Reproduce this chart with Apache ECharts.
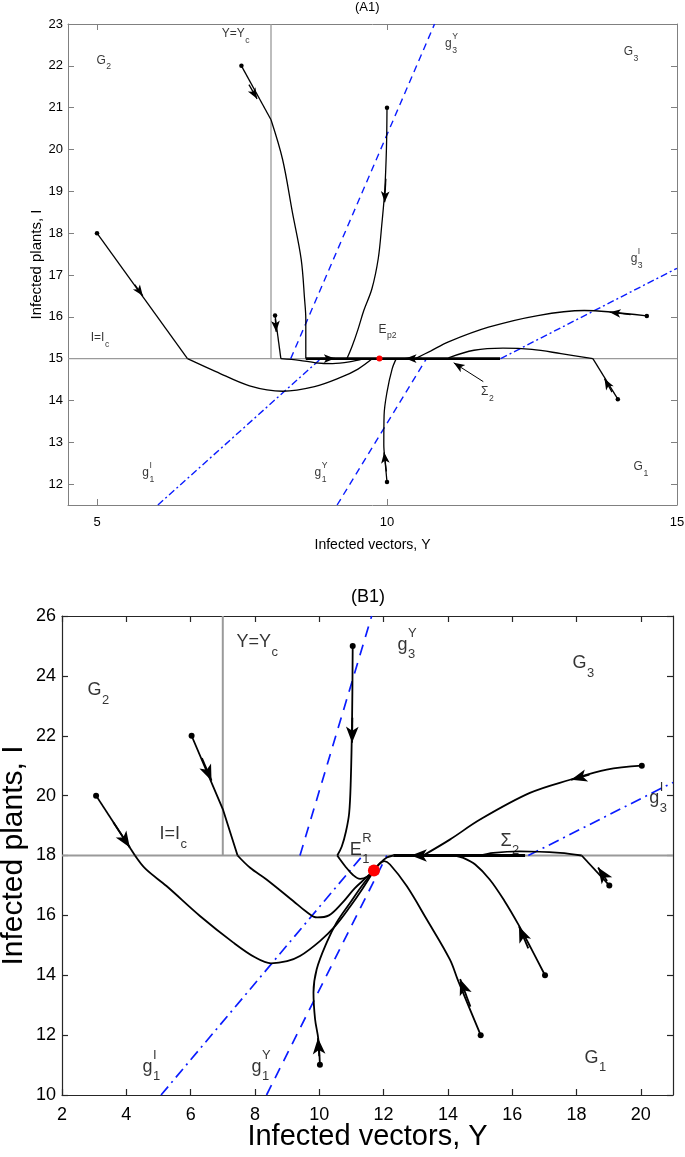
<!DOCTYPE html>
<html><head><meta charset="utf-8">
<script src="https://cdn.jsdelivr.net/npm/echarts@6/dist/echarts.min.js"></script>
<style>html,body{margin:0;padding:0;background:#fff}#c{width:685px;height:1157px}</style>
</head><body><div id="c"></div>
<script>
// ================= Panel A1 =================
const a1XTicks = [5, 10, 15];
const a1YTicks = [12, 13, 14, 15, 16, 17, 18, 19, 20, 21, 22, 23];
const a1YcLine = [[8, 15], [8, 23]];
const a1IcLine = [[4.5, 15], [15, 15]];
const a1G1Y = [[9.14, 11.5], [10.68, 15]];
const a1G3Y = [[8.34, 15], [10.82, 23]];
const a1G1I = [[6.05, 11.5], [8.86, 15]];
const a1G3I = [[11.96, 15], [15, 17.16]];
const a1Sliding = [[8.6, 15], [11.95, 15]];
const a1Ep2 = [9.87, 15];
const a1Traj1 = [[[7.49, 22], [8.0, 20.71]], [[8.0, 20.71], [8.2, 19.76], [8.37, 18.49], [8.52, 17.38], [8.58, 16.4], [8.6, 15.95], [8.6, 15.0]]];
const a1Traj2 = [[[5, 18], [6.56, 15]], [[6.56, 15], [7.05, 14.69], [7.63, 14.35], [8.2, 14.22], [8.75, 14.33], [9.2, 14.55], [9.5, 14.75], [9.75, 15.0]]];
const a1Traj3 = [[[8.07, 16.03], [8.17, 15]], [[8.17, 15], [8.49, 14.96], [8.77, 14.9], [9.06, 14.88], [9.35, 14.92], [9.6, 15]]];
const a1Traj4 = [[[10, 21], [9.99, 20], [9.96, 19], [9.91, 18.2], [9.85, 17.4], [9.74, 16.67], [9.6, 16.15], [9.5, 15.7], [9.4, 15.3], [9.31, 15.0]]];
const a1Traj5 = [[[10, 12.05], [9.97, 12.5], [9.945, 12.94], [9.95, 13.65], [10.0, 14.2], [10.09, 14.76], [10.16, 15]]];
const a1Traj6 = [[[14.48, 16.02], [13.81, 16.12], [13.4, 16.15], [12.6, 16.03], [11.75, 15.75], [11.06, 15.4], [10.75, 15.18], [10.49, 15.0]]];
const a1Traj7 = [[[13.98, 14.03], [13.55, 15]], [[13.55, 15], [13.0, 15.12], [12.5, 15.22], [12.0, 15.25], [11.5, 15.2], [11.06, 15.02]]];
const a1Arrows = [
  [[7.62, 21.55], [7.76, 21.21]],
  [[5.65, 16.77], [5.79, 16.5]],
  [[8.075, 15.95], [8.09, 15.64]],
  [[8.85, 15], [9.1, 15]],
  [[9.98, 19.3], [9.96, 18.74]],
  [[9.99, 12.3], [9.95, 12.76]],
  [[10.6, 15], [10.32, 15]],
  [[14.2, 16.05], [13.84, 16.11]],
  [[13.88, 14.2], [13.75, 14.52]]
];
const a1Pointer = [[[11.66, 14.45], [11.15, 14.9]]];
const a1Labels = [
  {t: 'G', sub: '2', at: [5.0, 22.12]},
  {t: 'Y=Y', sub: 'c', at: [7.16, 22.76]},
  {t: 'g', sub: '3', sup: 'Y', at: [11.01, 22.52]},
  {t: 'G', sub: '3', at: [14.09, 22.33]},
  {t: 'g', sub: '3', sup: 'I', at: [14.21, 17.38]},
  {t: 'I=I', sub: 'c', at: [4.9, 15.48]},
  {t: 'E', sub: 'p2', at: [9.86, 15.69]},
  {t: 'Σ', sub: '2', at: [11.63, 14.19]},
  {t: 'g', sub: '1', sup: 'I', at: [5.79, 12.26]},
  {t: 'g', sub: '1', sup: 'Y', at: [8.76, 12.26]},
  {t: 'G', sub: '1', at: [14.26, 12.4]}
];

// ================= Panel B1 =================
const b1XTicks = [2, 4, 6, 8, 10, 12, 14, 16, 18, 20];
const b1YTicks = [10, 12, 14, 16, 18, 20, 22, 24, 26];
const b1YcLine = [[7, 18], [7, 26]];
const b1IcLine = [[2, 18], [21, 18]];
const b1G1Y = [[8.36, 10], [12.1, 18]];
const b1G3Y = [[9.4, 18], [11.63, 26]];
const b1G1I = [[5.08, 10], [11.35, 18]];
const b1G3I = [[16.5, 18], [21, 20.44]];
const b1Sliding = [[12.3, 18], [16.4, 18]];
const b1E1R = [11.7, 17.5];
const b1Traj1 = [[[3.06, 20], [4.27, 18]], [[4.27, 18], [4.6, 17.55], [5.25, 16.98], [6.29, 15.98], [7.33, 15.09], [8.0, 14.6], [8.5, 14.4], [9.0, 14.47], [9.4, 14.64], [10.02, 15.14], [10.5, 15.65], [10.95, 16.28], [11.35, 16.9], [11.7, 17.5]]];
const b1Traj2 = [[[6.03, 22], [7.0, 19.55], [7.46, 18]], [[7.46, 18], [7.85, 17.59], [8.36, 17.2], [9.19, 16.48], [9.6, 16.12], [9.93, 15.93], [10.3, 16.0], [10.7, 16.4], [11.1, 16.9], [11.45, 17.25], [11.7, 17.5]]];
const b1Traj3 = [[[11.04, 25], [11.02, 22.5], [10.98, 20.5], [10.93, 19.42], [10.83, 18.8], [10.7, 18.3], [10.56, 18]], [[10.56, 18], [10.8, 17.65], [11.05, 17.35], [11.27, 17.22], [11.5, 17.3], [11.7, 17.5]]];
const b1Traj4 = [[[20.03, 21], [18.94, 20.87], [17.8, 20.53], [16.55, 20.09], [15.0, 19.2], [14.06, 18.53], [13.23, 18]]];
const b1Traj5 = [[[10.02, 11.01], [9.97, 11.87], [9.87, 12.53], [9.82, 13.42], [9.92, 14.2], [10.23, 15.09], [10.54, 15.76], [10.96, 16.42], [11.3, 16.95], [11.7, 17.5]]];
const b1Traj6 = [[[15.02, 12], [14.32, 13.81], [14.06, 14.53], [13.34, 15.87], [12.72, 16.98], [12.2, 17.7], [12.02, 17.81], [11.85, 17.7], [11.7, 17.5]]];
const b1Traj7 = [[[17.02, 14], [16.6, 14.87], [16.19, 15.7], [15.75, 16.5], [15.3, 17.2], [14.85, 17.7], [14.48, 17.92], [14.22, 18]]];
const b1Traj8 = [[[19.02, 17], [18.16, 18]], [[18.16, 18], [17.49, 18.09], [16.24, 18.14], [15.41, 18.09], [15.0, 18.0]]];
const b1SlideEnd = [[[12.3, 18], [12.1, 17.93], [11.9, 17.75], [11.7, 17.5]]];
const b1Arrows = [
  [[3.6, 19.1], [4.11, 18.27]],
  [[6.35, 21.25], [6.65, 20.5]],
  [[11.03, 22.6], [11.02, 21.77]],
  [[18.4, 20.7], [17.83, 20.53]],
  [[13.4, 18], [12.85, 18]],
  [[10.0, 11.3], [9.96, 11.9]],
  [[14.7, 12.95], [14.38, 13.87]],
  [[16.5, 14.9], [16.21, 15.63]],
  [[18.95, 17.15], [18.67, 17.6]]
];
const b1Labels = [
  {t: 'G', sub: '2', at: [2.81, 23.5]},
  {t: 'Y=Y', sub: 'c', at: [7.44, 25.1]},
  {t: 'g', sub: '3', sup: 'Y', at: [12.45, 25.03]},
  {t: 'G', sub: '3', at: [17.89, 24.4]},
  {t: 'g', sub: '3', sup: 'I', at: [20.28, 19.9]},
  {t: 'I=I', sub: 'c', at: [5.05, 18.7]},
  {t: 'E', sub: '1', sup: 'R', at: [10.96, 18.17]},
  {t: 'Σ', sub: '2', at: [15.65, 18.47]},
  {t: 'g', sub: '1', sup: 'I', at: [4.52, 10.93]},
  {t: 'g', sub: '1', sup: 'Y', at: [7.91, 10.93]},
  {t: 'G', sub: '1', at: [18.26, 11.23]}
];

// ================= building =================
const FONT = '"Liberation Sans", Arial, Helvetica, sans-serif';
const BLUE = '#0a1cff';
const GRAY = '#9a9a9a';
const ctx = document.createElement('canvas').getContext('2d');
function textW(s, fs) { ctx.font = fs + 'px ' + FONT; return ctx.measureText(s).width; }

function axes(gi, xr, yr, xt, yt, o) {
  const common = (ticks, show, margin) => ({
    splitLine: {show: false},
    axisLine: {show: true, onZero: false, lineStyle: {color: o.lc, width: o.lw}},
    axisTick: {show: true, inside: true, length: o.tl, customValues: ticks, lineStyle: {color: o.lc, width: o.lw}},
    axisLabel: {show: show, customValues: ticks, margin: margin, fontSize: o.fs, color: '#000', fontFamily: FONT}
  });
  const xs = [
    Object.assign({type: 'value', gridIndex: gi, position: 'bottom', min: xr[0], max: xr[1],
      name: 'Infected vectors, Y', nameLocation: 'middle', nameGap: o.xGap, nameMoveOverlap: false,
      nameTextStyle: {fontSize: o.nameFs, color: '#000', fontFamily: FONT}}, common(xt, true, o.xm)),
    Object.assign({type: 'value', gridIndex: gi, position: 'top', min: xr[0], max: xr[1]}, common(xt, false, 0))
  ];
  const ys = [
    Object.assign({type: 'value', gridIndex: gi, position: 'left', min: yr[0], max: yr[1],
      name: 'Infected plants, I', nameLocation: 'middle', nameGap: o.yGap, nameMoveOverlap: false,
      nameTextStyle: {fontSize: o.yNameFs, color: '#000', fontFamily: FONT}}, common(yt, true, o.ym)),
    Object.assign({type: 'value', gridIndex: gi, position: 'right', min: yr[0], max: yr[1]}, common(yt, false, 0))
  ];
  return {xs, ys};
}

const series = [];
function addLine(p, data, color, width, type, smooth, z) {
  series.push({type: 'line', xAxisIndex: p * 2, yAxisIndex: p * 2, data: data, symbol: 'none', showSymbol: false,
    smooth: smooth || false, lineStyle: {color: color, width: width, type: type || 'solid'}, z: z || 2,
    silent: true, animation: false});
}
function addTraj(p, traj, width) {
  traj.forEach(seg => addLine(p, seg, '#000', width, 'solid', seg.length > 3 ? 0.35 : false, 4));
}
function addArrows(p, arrows, width, size) {
  series.push({type: 'lines', coordinateSystem: 'cartesian2d', xAxisIndex: p * 2, yAxisIndex: p * 2,
    data: arrows.map(a => ({coords: a})), symbol: ['none', 'arrow'], symbolSize: [1, size],
    lineStyle: {color: '#000', width: width, opacity: 1, curveness: 0}, z: 6, silent: true, animation: false});
}
function addDots(p, pts, size, color, z) {
  series.push({type: 'scatter', xAxisIndex: p * 2, yAxisIndex: p * 2, data: pts, symbolSize: size,
    itemStyle: {color: color, opacity: 1}, z: z || 7, silent: true, animation: false});
}
function addLabels(p, list, fs) {
  const items = [];
  const mk = (at, text, dx, dy, f) => ({value: at, label: {show: true, formatter: text, position: [dx, dy],
    align: 'left', verticalAlign: 'middle', fontSize: f, color: '#000', fontFamily: FONT}});
  list.forEach(L => {
    const w = textW(L.t, fs);
    items.push(mk(L.at, L.t, 0, 0, fs));
    if (L.sub) items.push(mk(L.at, L.sub, w + 0.5, fs * 0.55, fs * 0.72));
    if (L.sup) items.push(mk(L.at, L.sup, w + 0.5, -fs * 0.62, fs * 0.72));
  });
  series.push({type: 'scatter', xAxisIndex: p * 2, yAxisIndex: p * 2, data: items, symbolSize: 1,
    itemStyle: {color: 'rgba(0,0,0,0)'}, z: 8, silent: true, animation: false});
}

// Panel A1
const A = axes(0, [4.5, 15], [11.5, 23], a1XTicks, a1YTicks,
  {lc: '#808080', lw: 1, tl: 6, fs: 13, xm: 11, ym: 5, xGap: 33, yGap: 24, nameFs: 14, yNameFs: 15});
addLine(0, a1YcLine, GRAY, 1.3, 'solid', false, 1);
addLine(0, a1IcLine, GRAY, 1.3, 'solid', false, 1);
addLine(0, a1G1Y, BLUE, 1.4, [7, 5], false, 3);
addLine(0, a1G3Y, BLUE, 1.4, [7, 5], false, 3);
addLine(0, a1G1I, BLUE, 1.4, [7, 3, 2, 3], false, 3);
addLine(0, a1G3I, BLUE, 1.4, [7, 3, 2, 3], false, 3);
[a1Traj1, a1Traj2, a1Traj3, a1Traj4, a1Traj5, a1Traj6, a1Traj7].forEach(t => addTraj(0, t, 1.3));
addLine(0, a1Sliding, '#000', 2.6, 'solid', false, 5);
addArrows(0, a1Arrows, 1.3, [6.5, 11]);
addArrows(0, a1Pointer, 1, [6.5, 11]);
addDots(0, [a1Traj1, a1Traj2, a1Traj3, a1Traj4, a1Traj5, a1Traj6, a1Traj7].map(t => t[0][0]), 4.5, '#000');
addDots(0, [a1Ep2], 6, '#ff0000', 9);
addLabels(0, a1Labels, 12);

// Panel B1
const B = axes(1, [2, 21], [10, 26], b1XTicks, b1YTicks,
  {lc: '#262626', lw: 1.2, tl: 6, fs: 18, xm: 11, ym: 6, xGap: 27, yGap: 33, nameFs: 29, yNameFs: 30});
addLine(1, b1YcLine, GRAY, 2, 'solid', false, 1);
addLine(1, b1IcLine, GRAY, 2, 'solid', false, 1);
addLine(1, b1G1Y, BLUE, 1.7, [11, 8], false, 3);
addLine(1, b1G3Y, BLUE, 1.7, [11, 8], false, 3);
addLine(1, b1G1I, BLUE, 1.7, [11, 5, 2, 5], false, 3);
addLine(1, b1G3I, BLUE, 1.7, [11, 5, 2, 5], false, 3);
[b1Traj1, b1Traj2, b1Traj3, b1Traj4, b1Traj5, b1Traj6, b1Traj7, b1Traj8, b1SlideEnd].forEach(t => addTraj(1, t, 1.8));
addLine(1, b1Sliding, '#000', 3.2, 'solid', false, 5);
addArrows(1, b1Arrows, 1.8, [9.5, 16]);
addDots(1, [b1Traj1, b1Traj2, b1Traj3, b1Traj4, b1Traj5, b1Traj6, b1Traj7, b1Traj8].map(t => t[0][0]), 6, '#000');
addDots(1, [b1E1R], 12, '#ff0000', 9);
addLabels(1, b1Labels, 18);

const chart = echarts.init(document.getElementById('c'), null, {renderer: 'canvas'});
chart.setOption({
  animation: false,
  backgroundColor: '#fff',
  textStyle: {fontFamily: FONT},
  title: [
    {text: '(A1)', left: 355, top: 1, padding: 0, textStyle: {fontSize: 13, fontWeight: 'normal', color: '#000', fontFamily: FONT}},
    {text: '(B1)', left: 351, top: 588, padding: 0, textStyle: {fontSize: 18, fontWeight: 'normal', color: '#000', fontFamily: FONT}}
  ],
  grid: [
    {left: 68, top: 24, width: 609, height: 481, outerBoundsMode: 'none', containLabel: false},
    {left: 62, top: 616, width: 611, height: 479, outerBoundsMode: 'none', containLabel: false}
  ],
  xAxis: [A.xs[0], A.xs[1], B.xs[0], B.xs[1]],
  yAxis: [A.ys[0], A.ys[1], B.ys[0], B.ys[1]],
  series: series
});
</script></body></html>
